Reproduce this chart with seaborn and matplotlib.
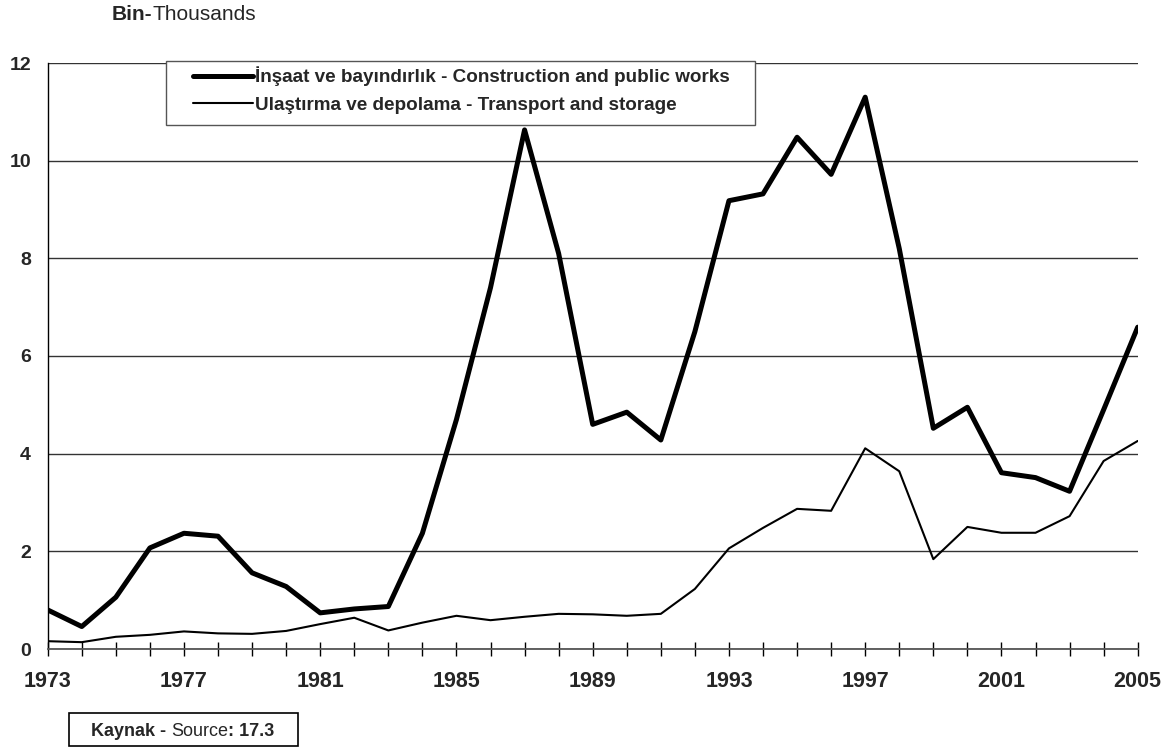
import numpy as np
import pandas as pd
import seaborn as sns
import matplotlib.pyplot as plt
from matplotlib.patches import Rectangle

# data (thousands)
years = list(range(1973, 2006))
construction = [0.80, 0.46, 1.06, 2.07, 2.37, 2.31, 1.56, 1.28, 0.74, 0.82, 0.87,
                2.37, 4.70, 7.40, 10.63, 8.10, 4.60, 4.85, 4.28, 6.50, 9.18, 9.32,
                10.48, 9.72, 11.30, 8.20, 4.52, 4.95, 3.61, 3.51, 3.23, 4.90, 6.59]
transport = [0.16, 0.14, 0.25, 0.29, 0.36, 0.32, 0.31, 0.37, 0.51, 0.64, 0.38,
             0.54, 0.68, 0.59, 0.66, 0.72, 0.71, 0.68, 0.72, 1.23, 2.06, 2.48,
             2.87, 2.83, 4.11, 3.64, 1.84, 2.50, 2.38, 2.38, 2.72, 3.85, 4.26]
label_construction = "İnşaat ve bayındırlık - Construction and public works"
label_transport = "Ulaştırma ve depolama - Transport and storage"
y_ticks = [0, 2, 4, 6, 8, 10, 12]
x_labels = years[::4]

df = pd.DataFrame({"year": years, "construction": construction, "transport": transport})

sns.set_style("white")
plt.rcParams["font.family"] = ["Liberation Sans", "DejaVu Sans"]

W, H = 1172, 747
fig = plt.figure(figsize=(W / 100, H / 100), dpi=100)
ax = fig.add_axes([47.7 / W, 1 - 649 / H, (1137.7 - 47.7) / W, (649 - 63) / H])

sns.lineplot(data=df, x="year", y="construction", ax=ax, color="black", lw=3.6,
             label=label_construction)
sns.lineplot(data=df, x="year", y="transport", ax=ax, color="black", lw=1.5,
             label=label_transport)

ax.set_xlim(1973, 2005)
ax.set_ylim(0, 12)
ax.set_xlabel("")
ax.set_ylabel("")
ax.set_yticks(y_ticks)
ax.set_yticklabels([str(v) for v in y_ticks], fontsize=14, fontweight="bold")
ax.yaxis.grid(True, color="#333333", lw=1)
ax.set_axisbelow(True)

ax.set_xticks(x_labels)
ax.set_xticklabels([str(v) for v in x_labels], fontsize=15.5, fontweight="bold")
ax.set_xticks(years, minor=True)
ax.tick_params(axis="x", which="both", direction="inout", length=10, width=1,
               color="black", bottom=True, pad=11)
ax.tick_params(axis="y", length=0, pad=12)

for s in ["top", "right"]:
    ax.spines[s].set_visible(False)
ax.spines["left"].set_color("black")
ax.spines["left"].set_linewidth(1)
ax.spines["bottom"].set_color("#555555")
ax.spines["bottom"].set_linewidth(1.3)

# legend: box drawn separately so the padding matches
ax.add_patch(Rectangle((165.7 / W, 1 - 125 / H), (755 - 165.7) / W, (125 - 60.7) / H,
                       transform=fig.transFigure, facecolor="white",
                       edgecolor="#555555", lw=1, zorder=5, clip_on=False))
leg = ax.legend(loc="upper left", bbox_to_anchor=(193 / W, 1 - 66.5 / H),
                bbox_transform=fig.transFigure, frameon=False, borderpad=0,
                borderaxespad=0, handlelength=3.2, handletextpad=0.1,
                labelspacing=0.55, prop={"weight": "bold", "size": 13.6})
leg.set_zorder(6)


def mixed_text(x, y, parts, size):
    # draw text pieces one after another, each with its own weight
    fig.canvas.draw()
    r = fig.canvas.get_renderer()
    for txt, weight in parts:
        t = fig.text(x / W, 1 - y / H, txt, fontsize=size, fontweight=weight,
                     va="center", ha="left")
        x += t.get_window_extent(r).width


mixed_text(112, 14, [("Bin-", "bold"), ("Thousands", "normal")], 15)

fig.patches.append(Rectangle((68.5 / W, 1 - 746 / H), (298 - 68.5) / W, (746 - 713) / H,
                             transform=fig.transFigure, fill=False,
                             edgecolor="black", lw=1.2))
mixed_text(91, 731, [("Kaynak - ", "bold"), ("Source", "normal"), (": 17.3", "bold")], 13)

fig.savefig("out.png", dpi=100)
